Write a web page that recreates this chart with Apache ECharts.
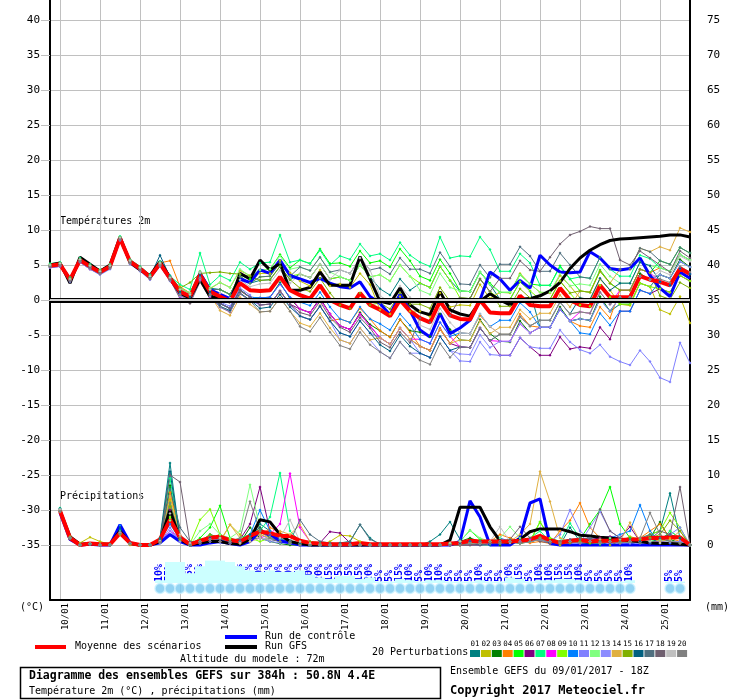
<!DOCTYPE html>
<html>
<head>
<meta charset="utf-8">
<script src="https://cdn.jsdelivr.net/npm/echarts@6/dist/echarts.min.js"></script>
<style>
html, body { margin: 0; padding: 0; background: #fff; }
#chart { width: 740px; height: 700px; }
</style>
</head>
<body>
<div id="chart"></div>
<script>
// 6-hourly steps from 09/01 18Z to +384h
var hours = [];
for (var i = 0; i <= 64; i++) hours.push(i * 6);

var dayHours = [6, 30, 54, 78, 102, 126, 150, 174, 198, 222, 246, 270, 294, 318, 342, 366];
var dayLabels = ['10/01', '11/01', '12/01', '13/01', '14/01', '15/01', '16/01', '17/01',
    '18/01', '19/01', '20/01', '21/01', '22/01', '23/01', '24/01', '25/01'];

var tempTicks = [-35, -30, -25, -20, -15, -10, -5, 0, 5, 10, 15, 20, 25, 30, 35, 40];
var rainTicks = [0, 5, 10, 15, 20, 25, 30, 35, 40, 45, 50, 55, 60, 65, 70, 75];

var memberColors = ['#008080', '#c0c000', '#008000', '#ff8000', '#00ff00', '#800080', '#00ff80', '#ff00ff', '#80ff00', '#0080ff',
    '#8080ff', '#80ff80', '#8c8cff', '#e0b040', '#80b000', '#006080', '#507080', '#706070', '#c0c0c0', '#808080'];

// Temperature 2m (°C)
var tMean = [4.9, 5.1, 2.9, 5.7, 4.8, 4.0, 4.8, 8.8, 5.5, 4.5, 3.3, 5.2, 3.1, 1.2, 0.5, 3.6, 1.2, 0.5, -0.2, 2.4, 1.4, 1.3, 1.4, 3.3, 1.4, 0.7, 0.2, 2.1, 0.0, -0.7, -1.2, 1.0, -0.7,
    -1.4, -2.3, 0.0, -1.6, -2.6, -3.2, -0.2, -2.2, -2.7, -2.8, 0.0, -1.8, -1.9, -1.9, 0.6, -0.7, -0.9, -0.9, 1.7, 0.0, -0.7, -0.9, 2.1, 0.4, 0.4, 0.4, 3.4, 2.9, 2.6, 2.1, 4.5, 3.7];
var tCtrl = [4.9, 5.1, 2.9, 5.7, 4.8, 4.0, 4.8, 8.8, 5.5, 4.5, 3.3, 5.3, 3.1, 1.0, 0.3, 3.8, 1.5, 0.8, 0.2, 3.0, 2.5, 4.3, 3.8, 5.7, 3.5, 3.0, 2.5, 3.1, 2.4, 1.9, 1.7, 2.6, 0.5,
    -0.5, -2.1, 0.8, -1.5, -4.3, -5.3, -1.9, -4.8, -4.0, -2.9, 0.0, 4.0, 3.0, 1.4, 2.8, 1.7, 6.4, 5.0, 4.0, 3.9, 4.0, 6.9, 6.0, 4.5, 4.3, 4.5, 6.0, 3.5, 1.7, 0.5, 4.0, 3.1];
var tGfs = [5.0, 5.3, 2.4, 6.1, 5.1, 4.1, 5.0, 9.0, 5.4, 4.3, 3.5, 5.5, 3.2, 1.0, 0.3, 3.0, 0.5, 0.3, -0.3, 3.8, 3.0, 5.7, 4.3, 5.2, 1.4, 1.4, 1.8, 4.0, 2.1, 2.1, 2.1, 6.2, 3.0,
    -0.2, -0.5, 1.7, -0.7, -1.7, -2.1, 1.2, -1.4, -2.0, -2.3, -0.2, 0.9, 0.0, -0.7, 0.1, 0.2, 0.6, 1.3, 2.5, 4.5, 6.0, 7.1, 7.9, 8.5, 8.7, 8.8, 8.9, 9.0, 9.1, 9.3, 9.3, 9.0];

var t01 = [5.0, 5.3, 3.2, 5.9, 5.0, 4.2, 5.0, 9.0, 5.7, 4.8, 3.6, 5.5, 3.5, 1.7, 1.0, 4.1, 1.7, 1.5, 0.8, 3.4, 2.4, 2.8, 2.9, 4.8, 2.9, 3.7, 3.2, 5.1, 3.0, 3.3, 2.8, 5.0, 3.3,
    1.6, 0.7, 3.0, 1.4, 2.4, 1.8, 4.8, 2.8, 1.3, 1.2, 4.0, 2.2, 0.1, 0.1, 2.6, 1.3, -3.9, -3.9, -1.3, -3.0, -2.7, -2.9, 0.1, -1.6, -0.6, -0.6, 2.4, 1.9, 3.6, 3.1, 5.5, 4.7];
var t02 = [4.7, 4.9, 2.8, 5.5, 4.6, 3.8, 4.6, 8.6, 5.3, 4.3, 3.1, 5.0, 3.0, 1.5, 1.0, 3.8, 1.6, 2.5, 1.8, 4.2, 3.5, 3.8, 3.8, 5.6, 3.9, 2.7, 2.0, 4.3, 2.0, 2.3, 1.8, 3.8, 2.2,
    -1.4, -2.0, 0.5, -1.6, -1.6, -2.4, 1.0, -1.0, -0.7, -0.8, 2.2, 0.2, 1.1, 1.0, 3.8, 2.3, 1.1, 1.0, 3.5, 2.0, 0.3, 0.0, 3.0, 1.4, -0.6, -0.8, 2.4, 1.9, -1.4, -2.0, 0.5, -3.3];
var t03 = [4.8, 5.0, 3.0, 5.6, 4.7, 3.9, 4.7, 8.6, 5.4, 4.4, 3.2, 5.0, 2.9, 0.7, 0.0, 3.0, 0.6, -0.5, -1.2, 1.5, 0.4, 0.3, 0.4, 2.5, 0.2, -1.3, -1.8, 0.3, -2.0, -3.7, -4.2, -1.8, -3.5,
    -4.4, -5.3, -2.8, -4.4, -4.6, -5.2, -2.0, -4.2, -5.7, -5.8, -2.8, -4.8, -5.9, -6.0, -3.0, -4.7, -3.9, -3.9, -1.0, -3.0, -2.7, -2.9, 0.5, -1.6, 0.4, 0.4, 3.8, 2.9, 3.6, 3.1, 5.8, 4.7];
var t04 = [5.1, 5.3, 3.1, 5.9, 5.0, 4.3, 5.0, 9.0, 5.6, 4.7, 3.5, 5.3, 5.6, 1.9, 1.0, 4.0, 1.7, -0.5, -1.2, 1.3, 0.4, -0.7, -0.6, 1.2, -0.6, -2.3, -2.8, -0.8, -3.0, -2.7, -3.2, -1.2, -2.7,
    -4.4, -5.3, -2.8, -4.6, -6.6, -7.2, -4.0, -6.2, -4.7, -4.8, -2.2, -3.8, -4.9, -4.9, -2.0, -3.7, -3.9, -3.9, -1.3, -3.0, -3.7, -3.9, -1.0, -2.6, 1.4, 1.4, 4.4, 3.9, 4.6, 4.1, 6.5, 5.7];
var t05 = [4.9, 5.1, 2.9, 5.8, 4.9, 4.1, 4.9, 8.9, 5.5, 4.6, 3.4, 5.3, 3.2, 1.2, 0.5, 3.8, 1.5, 1.5, 0.8, 3.6, 3.0, 4.3, 4.4, 6.5, 4.6, 5.7, 5.2, 7.3, 5.2, 5.3, 4.8, 7.0, 5.3,
    5.6, 4.7, 7.3, 5.6, 3.4, 2.8, 5.8, 3.8, 1.3, 1.2, 4.0, 2.4, 1.1, 1.1, 3.6, 2.3, 2.1, 2.1, 4.9, 3.0, 1.3, 1.1, 4.3, 2.4, 1.4, 1.4, 4.4, 3.9, 5.6, 5.1, 7.5, 6.7];
var t06 = [4.6, 4.8, 2.7, 5.4, 4.4, 3.7, 4.5, 8.6, 5.2, 4.2, 3.0, 4.9, 2.8, 0.7, 0.0, 3.1, 0.7, -0.5, -1.2, 1.4, 0.4, -0.7, -0.6, 1.3, -0.6, -1.3, -1.8, 0.1, -2.0, -3.7, -4.2, -2.0, -3.7,
    -5.4, -6.3, -4.0, -5.6, -6.6, -7.2, -4.2, -6.2, -6.7, -6.8, -4.0, -5.8, -7.9, -7.9, -5.4, -6.7, -7.9, -7.9, -5.3, -7.0, -6.7, -6.9, -3.9, -5.6, -1.6, -1.6, 1.4, 0.9, 1.6, 1.1, 3.5, 2.7];
var t07 = [5.2, 5.4, 3.2, 6.0, 5.1, 4.3, 5.1, 9.1, 5.8, 4.8, 3.6, 5.5, 3.4, 2.2, 1.5, 6.7, 2.2, 3.5, 2.8, 5.4, 4.4, 5.3, 5.4, 9.3, 5.4, 5.7, 5.2, 7.1, 5.0, 6.3, 5.8, 8.0, 6.3,
    6.6, 5.7, 8.2, 6.4, 5.4, 4.8, 9.0, 6.0, 6.3, 6.2, 9.0, 7.2, 4.1, 4.1, 6.6, 5.3, 2.1, 2.1, 4.7, 3.0, 3.3, 3.1, 6.1, 4.4, 3.4, 3.4, 6.4, 5.9, 4.6, 4.1, 6.5, 5.7];
var t08 = [4.9, 5.0, 2.9, 5.7, 4.8, 4.0, 4.9, 8.7, 5.5, 4.5, 3.4, 5.2, 3.1, 0.4, -0.3, 2.8, 0.4, -1.0, -1.7, 0.9, 0.0, 0.3, 0.4, 2.3, 0.4, -1.3, -1.8, 0.1, -2.0, -3.7, -4.2, -2.0, -3.7,
    -5.4, -6.3, -4.0, -5.6, -5.6, -6.2, -3.2, -5.2, -6.7, -6.8, -4.0, -5.8, -5.9, -5.9, -3.4, -4.7, -3.9, -3.9, -1.3, -3.0, -1.7, -1.9, 1.1, -0.6, 1.4, 1.4, 4.4, 3.9, 2.6, 2.1, 4.5, 3.7];
var t09 = [5.0, 5.2, 3.0, 5.8, 4.9, 4.1, 4.9, 8.9, 5.6, 4.6, 3.4, 5.3, 3.2, 1.5, 0.8, 3.9, 1.5, 1.5, 0.8, 3.4, 2.4, 3.3, 3.4, 5.3, 3.4, 3.7, 3.2, 5.1, 3.0, 3.3, 2.8, 5.0, 3.3,
    3.6, 2.7, 5.0, 3.4, 2.4, 1.8, 4.8, 2.8, 0.3, 0.2, 3.0, 1.2, 0.1, 0.1, 2.6, 1.3, 0.1, 0.1, 2.7, 1.0, -0.7, -0.9, 2.1, 0.4, -0.6, -0.6, 2.4, 1.9, 1.6, 1.1, 3.5, 2.7];
var t10 = [4.8, 5.0, 2.8, 5.6, 4.7, 3.9, 4.7, 8.7, 5.4, 4.4, 3.2, 5.1, 3.0, 0.9, 0.2, 3.3, 0.9, -0.5, -1.2, 1.4, 0.4, 0.3, 0.4, 2.3, 0.4, -0.3, -0.8, 1.1, -1.0, -2.7, -3.2, -1.0, -2.7,
    -3.4, -4.3, -2.0, -3.6, -5.6, -6.2, -3.2, -5.2, -4.7, -4.8, -2.0, -3.8, -2.9, -2.9, -0.4, -1.7, -3.9, -3.9, -1.3, -3.0, -4.7, -4.9, -1.9, -3.6, -1.6, -1.6, 1.4, 0.9, 2.6, 2.1, 4.5, 3.7];
var t11 = [4.6, 4.8, 2.6, 5.4, 4.4, 3.6, 4.4, 8.5, 5.1, 4.1, 2.9, 4.8, 2.7, 0.7, 0.0, 3.1, 0.7, -0.3, -0.9, 1.7, 0.7, -0.7, -0.6, 1.3, -0.6, -2.3, -2.8, -0.9, -3.0, -4.7, -5.2, -3.0, -4.7,
    -5.4, -6.3, -4.0, -5.6, -7.6, -8.2, -5.2, -7.2, -8.7, -8.8, -6.0, -7.8, -7.9, -7.9, -5.4, -6.7, -6.9, -6.9, -4.3, -6.0, -7.1, -7.6, -6.4, -8.1, -8.8, -9.3, -7.2, -8.8, -11.1, -11.7, -6.1, -9.0];
var t12 = [5.0, 5.2, 3.0, 5.8, 4.9, 4.1, 4.9, 8.9, 5.6, 4.6, 3.4, 5.3, 3.2, 1.7, 1.0, 4.1, 1.7, 2.5, 1.8, 4.4, 3.4, 4.3, 4.4, 6.3, 4.4, 4.7, 4.2, 6.1, 4.0, 3.3, 2.8, 5.0, 3.3,
    3.6, 2.7, 5.0, 3.4, 1.4, 0.8, 3.8, 1.8, 1.3, 1.2, 4.0, 2.2, 1.1, 1.1, 3.6, 2.3, 1.1, 1.1, 3.7, 2.0, 2.3, 2.1, 5.1, 3.4, 2.4, 2.4, 5.4, 4.9, 4.6, 4.1, 6.5, 5.7];
var t13 = [4.7, 4.9, 2.8, 5.5, 4.6, 3.8, 4.6, 8.6, 5.3, 4.3, 3.1, 5.0, 2.9, 0.5, -0.2, 2.9, 0.5, -1.0, -1.7, 0.9, -0.1, -0.7, -0.6, 1.3, -0.6, -2.3, -2.8, -0.9, -3.0, -5.7, -6.2, -4.0, -5.7,
    -7.4, -8.3, -6.0, -7.6, -7.6, -8.2, -5.2, -7.2, -7.7, -7.8, -5.0, -6.8, -5.9, -5.9, -3.4, -4.7, -3.9, -3.9, -1.3, -3.0, -2.7, -2.9, 0.1, -1.6, 0.4, 0.4, 3.4, 2.9, 3.6, 3.1, 5.5, 4.7];
var t14 = [4.8, 5.0, 2.9, 5.6, 4.7, 3.9, 4.7, 8.7, 5.4, 4.4, 3.2, 5.1, 3.0, 0.7, 0.0, 3.1, 0.7, -1.5, -2.2, 0.4, -0.6, -1.7, -1.6, 0.3, -1.6, -3.3, -3.8, -1.9, -4.0, -5.7, -6.2, -4.0, -5.7,
    -5.4, -6.3, -4.0, -5.6, -6.6, -7.2, -4.2, -6.2, -5.7, -5.8, -3.0, -4.8, -3.9, -3.9, -1.4, -2.7, -1.9, -1.9, 0.7, -1.0, 1.3, 1.1, 4.1, 2.4, 4.4, 4.4, 7.4, 6.9, 7.6, 7.1, 10.3, 9.7];
var t15 = [5.0, 5.2, 3.1, 5.8, 4.9, 4.1, 4.9, 8.9, 5.6, 4.6, 3.4, 5.3, 3.2, 1.7, 2.5, 3.8, 3.9, 4.0, 3.8, 3.7, 3.4, 2.8, 2.9, 4.8, 2.9, 1.7, 1.2, 3.1, 1.0, -0.7, -1.2, 1.0, -0.7,
    -0.4, -1.3, 1.0, -0.6, -0.6, -1.2, 1.8, -0.2, 0.3, 0.2, 3.0, 1.2, -0.9, -0.9, 1.6, 0.3, 0.1, 0.1, 2.7, 1.0, 1.3, 1.1, 4.1, 2.4, 1.4, 1.4, 4.4, 3.9, 0.6, 0.1, 2.5, 1.7];
var t16 = [4.9, 5.1, 3.0, 5.7, 4.8, 4.0, 4.8, 8.8, 5.5, 4.5, 3.3, 6.4, 3.3, 1.2, 0.5, 3.6, 1.2, -0.9, -1.5, 1.0, 0.0, -1.2, -1.0, 0.8, -1.0, -2.3, -2.8, -0.9, -3.0, -4.7, -5.2, -3.0, -4.7,
    -6.4, -7.3, -5.0, -6.6, -7.6, -8.2, -5.2, -7.2, -6.7, -6.8, -4.0, -5.8, -4.9, -4.9, -2.4, -3.7, -2.9, -2.9, -0.3, -2.0, 0.3, 0.1, 3.1, 1.4, 2.4, 2.4, 5.4, 4.9, 2.6, 2.1, 4.5, 3.7];
var t17 = [5.0, 5.2, 3.0, 5.8, 4.9, 4.1, 4.9, 8.9, 5.6, 4.6, 3.4, 5.3, 3.2, 1.5, 0.8, 3.9, 1.5, 1.5, 0.8, 3.4, 2.4, 3.3, 3.4, 5.3, 3.4, 4.7, 4.2, 6.1, 4.0, 4.3, 3.8, 6.0, 4.3,
    4.6, 3.7, 6.0, 4.4, 4.4, 3.8, 6.8, 4.8, 2.3, 2.2, 5.0, 3.2, 5.1, 5.1, 7.6, 6.3, 4.1, 4.1, 6.7, 5.0, 3.3, 3.1, 6.1, 4.4, 4.4, 4.4, 7.4, 6.9, 5.6, 5.1, 7.5, 6.7];
var t18 = [4.8, 5.0, 2.8, 5.5, 4.6, 3.8, 4.6, 8.7, 5.3, 4.3, 3.0, 4.9, 2.9, 0.2, -0.5, 2.6, 0.2, -0.5, -1.2, 1.4, 0.4, -0.7, -0.6, 1.3, -0.6, -1.8, -2.2, -0.2, -2.5, -3.9, -4.6, -2.5, -4.0,
    -6.0, -6.8, -4.6, -6.1, -2.6, -3.2, -0.2, -2.2, 0.3, 0.2, 3.0, 1.2, 3.1, 3.1, 5.6, 4.3, 4.1, 6.1, 8.0, 9.3, 9.8, 10.5, 10.2, 10.2, 5.7, 5.0, 7.0, 6.0, 5.0, 4.0, 7.0, 6.0];
var t19 = [5.0, 5.2, 3.0, 5.8, 4.9, 4.1, 4.9, 8.9, 5.6, 4.6, 3.4, 5.3, 3.2, 1.5, 0.8, 3.9, 1.5, 1.0, 0.3, 2.9, 1.9, 2.3, 2.4, 4.3, 2.4, 3.7, 3.2, 5.1, 3.0, 4.3, 3.8, 6.0, 4.3,
    0.6, -0.3, 2.0, 0.4, -3.6, -4.2, -1.2, -3.2, -4.7, -4.8, -2.0, -3.8, -4.9, -4.9, -2.4, -3.7, -2.9, -2.9, -0.3, -2.0, -1.7, -1.9, 1.1, -0.6, 0.4, 0.4, 3.4, 2.9, 4.2, 3.6, 6.3, 5.5];
var t20 = [4.7, 4.9, 2.7, 5.5, 4.5, 3.7, 4.5, 8.6, 5.2, 4.2, 3.0, 4.9, 2.8, 0.7, 0.0, 3.1, 0.7, -1.0, -1.7, 0.9, -0.1, -1.7, -1.6, 0.3, -1.6, -3.8, -4.5, -2.5, -4.6, -6.5, -7.0, -4.6, -6.4,
    -7.4, -8.3, -6.0, -7.6, -8.6, -9.2, -6.2, -8.2, -6.7, -6.8, -4.0, -5.8, -4.9, -4.9, -2.4, -3.7, -2.9, -2.9, -0.3, -2.0, -1.7, -1.9, 1.1, -0.6, 0.4, 0.4, 3.4, 2.9, 3.0, 2.5, 4.8, 4.0];

// Precipitations (mm per 6h), right axis
var pMean = [null, 4.9, 1.0, 0.0, 0.2, 0.1, 0.1, 1.7, 0.3, 0.0, 0.0, 0.8, 3.6, 1.1, 0.1, 0.6, 1.0, 1.2, 0.7, 0.5, 1.3, 1.9, 1.7, 1.3, 1.3, 0.6, 0.3, 0.2, 0.1, 0.1, 0.1, 0.3, 0.1,
    0.1, 0.1, 0.1, 0.1, 0.1, 0.1, 0.1, 0.2, 0.3, 0.6, 0.5, 0.5, 0.5, 0.5, 0.6, 0.8, 1.3, 0.7, 0.3, 0.6, 0.7, 0.5, 0.6, 0.6, 0.7, 0.8, 0.8, 1.0, 1.0, 1.1, 1.1, 0.0];
var pCtrl = [null, 4.6, 0.8, 0, 0.1, 0, 0, 2.9, 0.3, 0, 0, 0.3, 1.5, 0.5, 0, 0, 0.3, 0.5, 0.2, 0, 0.5, 2.0, 1.5, 0.6, 0.3, 0, 0, 0, 0, 0, 0, 0, 0,
    0, 0, 0, 0, 0, 0, 0, 0, 0.5, 6.3, 4.0, 0, 0, 0, 1.0, 6.0, 6.6, 0.2, 0, 0, 0, 0, 0, 0, 0, 0, 0, 0, 0, 0, 0, 0];
var pGfs = [null, 4.9, 1.2, 0.1, 0.2, 0.1, 0.1, 2.0, 0.2, 0, 0, 0.5, 5.0, 0.8, 0, 0.3, 0.5, 0.5, 0.2, 0.1, 0.8, 3.6, 3.3, 1.5, 0.5, 0.2, 0, 0, 0, 0, 0, 0, 0,
    0, 0, 0, 0, 0, 0, 0, 0.7, 5.4, 5.4, 5.4, 2.6, 0.6, 0.3, 0.8, 1.9, 2.3, 2.3, 2.3, 1.9, 1.4, 1.3, 1.1, 1.0, 0.8, 0.6, 0.5, 0.3, 0.2, 0.2, 0.1, 0];

var p01 = [null, 5.2, 1.1, 0, 0.1, 0, 0, 2.2, 0.2, 0, 0, 1.0, 11.7, 1.0, 0, 0.3, 1.5, 1.0, 0.5, 0.2, 1.5, 3.0, 2.0, 0.8, 0.3, 0.2, 0, 0, 0.1, 0.3, 0.5, 2.9,
    1.0, 0, 0, 0, 0, 0, 0.5, 1.5, 3.3, 0.8, 0.2, 0, 0, 0.3, 0.5, 0.8, 0.5, 1.0, 0.3, 0, 2.5, 0.5, 0.2, 0, 0.5, 0.3, 1.0, 0.5, 1.5, 2.0, 7.4, 1.0, 0];
var p02 = [null, 4.8, 1.2, 0.3, 1.1, 0.5, 0.1, 1.8, 0.2, 0, 0, 0.5, 6.5, 0.5, 0, 0.5, 1.0, 0.5, 2.9, 1.5, 0.5, 1.5, 2.0, 0.5, 0.3, 0, 0, 0, 0.5, 1.4, 1.3, 0.5,
    0, 0, 0, 0, 0, 0, 0, 0, 0, 0, 0.3, 0.5, 0.2, 0, 0.3, 0.5, 1.0, 0.8, 0.5, 0, 0.3, 0.5, 0.5, 0.2, 0, 0.5, 1.2, 0.8, 0.5, 0.5, 2.0, 1.0, 0];
var p03 = [null, 5.0, 0.9, 0, 0.2, 0, 0, 1.6, 0.1, 0, 0, 0.3, 8.5, 0.8, 0, 0.2, 0.8, 1.5, 0.6, 0.3, 2.5, 1.0, 0.5, 0.2, 0, 0, 0, 0, 0, 0, 0, 0,
    0, 0, 0, 0, 0, 0, 0, 0, 0.2, 0.5, 1.0, 0.5, 0.2, 0, 0.5, 0.3, 0.5, 1.0, 0.5, 0.2, 0.5, 0.3, 0.2, 0.5, 0.8, 0.5, 0.2, 0.5, 1.0, 3.3, 0.8, 0.3, 0];
var p04 = [null, 4.7, 1.0, 0, 0.2, 0, 0, 1.5, 0, 0, 0, 0.5, 7.5, 1.5, 0, 0.5, 1.0, 0.5, 0.3, 0.2, 0.5, 1.0, 2.5, 1.8, 0.5, 0.3, 0.2, 0, 0, 0, 0, 0,
    0, 0, 0, 0, 0, 0, 0, 0, 0, 0, 0, 0.3, 0.5, 1.5, 1.0, 0.5, 0.3, 0.5, 0.2, 2.0, 3.5, 6.0, 2.5, 1.0, 0.5, 0.3, 0.5, 1.0, 2.0, 3.0, 1.0, 0.5, 0];
var p05 = [null, 5.1, 1.0, 0, 0.1, 0, 0, 1.6, 0.2, 0, 0, 0.6, 6.0, 0.8, 0, 1.0, 2.5, 5.6, 1.0, 0.5, 1.0, 2.0, 1.0, 0.5, 0.3, 0.2, 0, 0, 0, 0, 0, 0,
    0, 0, 0, 0, 0, 0, 0, 0, 0.2, 0.5, 2.1, 0.8, 0.3, 0.2, 0.5, 0.5, 0.5, 3.3, 1.0, 0.5, 0.5, 0.8, 3.0, 5.0, 8.3, 3.0, 1.0, 0.3, 0.5, 0.8, 0.5, 0.3, 0];
var p06 = [null, 5.0, 1.0, 0, 0.2, 0, 0, 1.7, 0.2, 0, 0, 0.4, 5.0, 0.8, 0, 0.3, 1.0, 0.8, 0.5, 0.8, 3.0, 8.3, 2.0, 0.5, 0.3, 0.2, 0, 0.3, 1.9, 1.7, 0.3, 0,
    0, 0, 0, 0, 0, 0, 0, 0, 0, 0, 0, 0, 0.2, 0.3, 0.5, 0.3, 0.5, 0.8, 0.3, 0.5, 0.3, 0.5, 0.8, 1.0, 1.2, 1.0, 2.6, 0.5, 0.3, 0.5, 0.3, 0.2, 0];
var p07 = [null, 5.3, 1.1, 0, 0.1, 0, 0, 2.0, 0.3, 0, 0, 0.8, 9.5, 1.0, 0, 0.5, 1.5, 1.0, 0.5, 1.0, 1.5, 2.0, 4.0, 10.3, 2.0, 0.5, 0, 0, 0, 0, 0, 0,
    0, 0, 0, 0, 0, 0, 0, 0, 0.3, 0.5, 0.3, 0.5, 0.2, 0.5, 0.8, 0.5, 1.0, 2.0, 0.5, 0.5, 3.1, 1.0, 0.5, 0.3, 0.5, 1.0, 0.5, 0.5, 1.0, 0.5, 2.0, 1.0, 0];
var p08 = [null, 5.0, 1.0, 0, 0.2, 0, 0, 1.8, 0.2, 0, 0, 0.5, 2.0, 1.0, 0.2, 0.5, 1.0, 0.5, 0.3, 0.5, 0.8, 1.0, 1.5, 3.0, 10.2, 2.5, 0.5, 0.2, 0, 0, 0, 0,
    0, 0, 0, 0, 0, 0, 0, 0, 0, 0.3, 0.5, 0.3, 0.5, 0.2, 0.5, 0.5, 0.8, 1.0, 0.5, 0.3, 0.5, 0.3, 0.5, 0.3, 0.5, 0.3, 0.5, 0.5, 0.3, 0.5, 0.3, 0.5, 0];
var p09 = [null, 4.9, 1.0, 0, 0.1, 0, 0, 1.5, 0.1, 0, 0, 0.4, 4.0, 0.6, 0.2, 3.6, 5.1, 1.5, 0.8, 0.5, 1.0, 0.5, 1.0, 0.8, 0.5, 0.2, 0, 0, 0, 0, 0, 0,
    0, 0, 0, 0, 0, 0, 0, 0, 0.2, 0.5, 0.3, 0.2, 0.5, 0.3, 0.5, 0.3, 0.5, 3.3, 1.0, 0.3, 0.5, 0.5, 0.3, 0.2, 0.5, 0.3, 0.5, 0.8, 1.5, 2.0, 4.6, 2.5, 0];
var p10 = [null, 4.8, 1.0, 0, 0.2, 0, 0, 2.8, 0.3, 0, 0, 0.6, 3.0, 0.8, 0, 0.5, 0.8, 0.5, 0.3, 0.5, 1.5, 5.0, 2.0, 0.8, 0.5, 0.2, 0, 0, 0, 0, 0, 0,
    0, 0, 0, 0, 0, 0, 0, 0, 0, 0.2, 0.5, 0.3, 0.5, 1.0, 0.5, 0.3, 0.5, 0.8, 0.3, 0.5, 0.8, 0.3, 0.5, 0.8, 1.0, 1.5, 2.0, 5.7, 2.0, 0.5, 0.3, 0.5, 0];
var p11 = [null, 5.0, 1.0, 0, 0.1, 0, 0, 1.9, 0.2, 0, 0, 0.3, 2.5, 0.5, 0, 0.3, 0.5, 0.8, 0.3, 0.5, 1.0, 1.5, 0.8, 0.5, 0.2, 0, 0, 0, 0, 0, 0, 0,
    0, 0, 0, 0, 0, 0, 0, 0, 0, 0.2, 0.3, 0.5, 0.3, 0.2, 0.5, 0.3, 0.5, 1.0, 0.5, 1.5, 5.0, 2.0, 0.8, 0.3, 0.5, 0.3, 0.2, 0.5, 0.3, 0.5, 1.5, 2.5, 0];
var p12 = [null, 5.1, 1.0, 0, 0.2, 0, 0, 1.7, 0.2, 0, 0, 0.5, 3.5, 0.8, 0, 2.0, 3.0, 1.5, 1.0, 2.0, 8.6, 2.5, 1.0, 0.5, 0.3, 0, 0, 0, 0, 0, 0, 0,
    0, 0, 0, 0, 0, 0, 0, 0, 0.2, 0.5, 2.1, 1.0, 0.5, 1.0, 2.6, 1.0, 0.5, 1.0, 0.5, 0.3, 0.5, 0.3, 0.5, 0.5, 1.0, 0.8, 0.5, 0.3, 0.5, 0.8, 0.5, 0.3, 0];
var p13 = [null, 4.9, 1.0, 0, 0.1, 0, 0, 1.6, 0.1, 0, 0, 0.3, 2.0, 0.5, 0, 0.2, 0.5, 0.3, 0.2, 0.5, 0.8, 1.0, 0.5, 0.3, 0.2, 0, 0, 0, 0, 0, 0, 0,
    0, 0, 0, 0, 0, 0, 0, 0, 0, 0, 0.2, 0.3, 0.2, 0.5, 0.3, 0.2, 0.5, 0.8, 0.3, 0.5, 0.5, 0.3, 2.5, 4.8, 2.0, 1.0, 0.5, 0.3, 0.5, 0.3, 0.5, 0.5, 0];
var p14 = [null, 5.0, 1.1, 0, 0.2, 0, 0, 1.8, 0.2, 0, 0, 0.5, 7.0, 1.2, 0, 0.3, 0.8, 0.5, 2.9, 1.0, 0.8, 1.5, 1.0, 2.0, 1.5, 2.9, 0.5, 0, 0, 0, 0, 0,
    0, 0, 0, 0, 0, 0, 0, 0, 0, 0.2, 0.3, 0.2, 0.5, 0.3, 0.5, 1.5, 3.0, 10.5, 6.2, 1.0, 0.5, 0.3, 0.5, 0.8, 0.5, 0.5, 3.2, 0.5, 1.0, 0.5, 0.8, 2.0, 0];
var p15 = [null, 4.9, 1.0, 0, 0.2, 0, 0, 1.6, 0.1, 0, 0, 0.4, 5.5, 0.8, 0, 0.5, 1.5, 1.0, 0.5, 0.3, 1.0, 2.5, 1.0, 0.5, 0.3, 0.2, 0.5, 0.3, 0, 0, 0, 0,
    0, 0, 0, 0, 0, 0, 0, 0, 0, 0, 0.3, 0.2, 0.5, 0.3, 0.5, 0.2, 0.5, 1.0, 0.3, 0.5, 0.3, 0.5, 0.3, 0.5, 0.5, 0.3, 0.5, 0.8, 1.0, 1.5, 3.5, 2.0, 0];
var p16 = [null, 5.2, 1.0, 0, 0.1, 0, 0, 2.5, 0.2, 0, 0, 0.8, 10.5, 1.0, 0, 0.3, 1.0, 0.8, 0.5, 0.5, 1.5, 2.5, 1.0, 0.5, 0.3, 0.2, 0, 0, 0, 0, 0, 0,
    0, 0, 0, 0, 0, 0, 0, 0, 0, 0.3, 0.5, 0.5, 0.3, 0.2, 0.5, 0.3, 0.5, 0.8, 0.5, 0.3, 0.5, 0.3, 0.5, 0.3, 0.5, 0.3, 0.5, 0.5, 0.3, 1.0, 1.5, 1.0, 0];
var p17 = [null, 5.0, 1.0, 0, 0.2, 0, 0, 1.8, 0.2, 0, 0, 0.5, 8.0, 2.5, 0.5, 0.3, 0.8, 0.5, 0.3, 0.5, 1.0, 2.0, 1.5, 1.0, 0.5, 3.6, 1.5, 0.5, 0.3, 0.2, 0.5, 2.9,
    0.8, 0.2, 0, 0, 0, 0, 0, 0, 0, 0, 0, 0, 0.2, 0.3, 0.5, 0.3, 0.5, 0.8, 0.5, 0.3, 0.5, 0.8, 1.0, 0.5, 0.3, 0.5, 0.8, 1.0, 1.5, 1.0, 0.5, 0.3, 0];
var p18 = [null, 5.0, 1.0, 0, 0.1, 0, 0, 1.7, 0.2, 0, 0, 0.5, 10.0, 9.0, 0.3, 0.2, 0.5, 0.8, 0.5, 0.3, 0.8, 1.0, 0.8, 0.5, 0.3, 0, 0, 0, 0, 0, 0, 0,
    0, 0, 0, 0, 0, 0, 0, 0, 0, 0, 0.3, 0.5, 0.3, 0.5, 0.8, 2.6, 1.0, 0.5, 0.3, 0.5, 0.8, 1.0, 0.8, 5.1, 2.0, 1.0, 0.5, 0.3, 0.8, 2.0, 1.5, 8.3, 0];
var p19 = [null, 5.1, 1.0, 0, 0.2, 0, 0, 1.7, 0.2, 0, 0, 0.6, 4.5, 1.5, 0.3, 0.5, 0.8, 1.0, 0.5, 0.3, 0.5, 1.0, 0.8, 1.0, 3.6, 0.5, 0.2, 0, 0, 0, 0, 0,
    0, 0, 0, 0, 0, 0, 0, 0, 0.3, 0.5, 0.3, 0.2, 0.5, 2.6, 0.5, 0.3, 0.5, 0.8, 0.5, 0.3, 0.5, 0.3, 0.5, 0.3, 0.5, 0.3, 0.5, 1.0, 0.5, 0.3, 0.5, 0.3, 0];
var p20 = [null, 4.8, 1.0, 0, 0.2, 0, 0, 1.6, 0.2, 0, 0, 0.4, 6.0, 1.0, 0, 0.5, 0.8, 0.5, 0.5, 1.0, 6.2, 2.0, 1.0, 0.5, 0.3, 0, 0, 0, 0, 0, 0, 0,
    0, 0, 0, 0, 0, 0, 0, 0, 0, 0, 0.3, 0.2, 0.5, 0.3, 0.5, 0.3, 0.5, 0.8, 0.5, 0.3, 0.5, 0.3, 0.5, 0.3, 0.5, 0.3, 0.5, 1.0, 4.6, 1.5, 0.5, 0.3, 0];

// probability of precipitation (%) per 6h step
var precipProb = [null, null, null, null, null, null, null, null, null, null, null,
    10, 75, 75, 35, 60, 80, 80, 75, 60, 45, 40, 45, 40, 40, 45, 30, 20, 15, 25, 25,
    15, 20, 5, 5, 15, 10, 5, 10, 10, 5, 5, 5, 10, 5, 5, 20, 15, 5, 10, 10,
    15, 15, 10, 5, 5, 5, 5, 10, null, null, null, 5, 5, null];

var tempMembers = [t01, t02, t03, t04, t05, t06, t07, t08, t09, t10, t11, t12, t13, t14, t15, t16, t17, t18, t19, t20];
var rainMembers = [p01, p02, p03, p04, p05, p06, p07, p08, p09, p10, p11, p12, p13, p14, p15, p16, p17, p18, p19, p20];

var MONO = '"DejaVu Sans Mono", monospace';
var SPAN = 300 / 7;   // half height of the plot in °C (7 px per degree)

function pairs(arr) {
    return hours.map(function(h, i) { return [h, arr[i]]; });
}

function lineSeries(name, arr, color, width, axis, withSymbol) {
    return {
        name: name,
        type: 'line',
        yAxisIndex: axis,
        data: pairs(arr),
        symbol: withSymbol ? 'diamond' : 'none',
        symbolSize: 3,
        showSymbol: withSymbol,
        connectNulls: false,
        silent: true,
        lineStyle: { color: color, width: width },
        itemStyle: { color: color }
    };
}

var series = [];

// perturbations first so the runs and mean sit on top
tempMembers.forEach(function(arr, k) {
    var s = lineSeries('T' + (k + 1), arr, memberColors[k], 1, 0, true);
    if (k == 0) {
        s.markLine = {
            silent: true,
            symbol: 'none',
            label: { show: false },
            data: [
                { yAxis: 0, lineStyle: { color: '#000', width: 5, type: 'solid' } },
                { yAxis: 0, lineStyle: { color: '#d0d0d0', width: 2, type: 'solid' } }
            ]
        };
    }
    series.push(s);
});
rainMembers.forEach(function(arr, k) {
    series.push(lineSeries('P' + (k + 1), arr, memberColors[k], 1, 1, true));
});

series.push(lineSeries('Run de contrôle', tCtrl, '#0000ff', 3, 0, false));
series.push(lineSeries('Run GFS', tGfs, '#000000', 3, 0, false));
series.push(lineSeries('Run de contrôle P', pCtrl, '#0000ff', 3, 1, false));
series.push(lineSeries('Run GFS P', pGfs, '#000000', 3, 1, false));
series.push(lineSeries('Moyenne', tMean, '#ff0000', 4, 0, false));
series.push(lineSeries('Moyenne P', pMean, '#ff0000', 4, 1, false));

// probability band
var probData = [];
hours.forEach(function(h, i) {
    if (precipProb[i] != null) probData.push([h, precipProb[i]]);
});

series.push({
    type: 'bar',
    xAxisIndex: 1,
    yAxisIndex: 2,
    data: probData,
    barWidth: 10,
    silent: true,
    itemStyle: { color: '#ccffff' }
});
series.push({
    type: 'custom',
    xAxisIndex: 1,
    yAxisIndex: 2,
    data: probData,
    silent: true,
    renderItem: function(params, api) {
        var p = api.coord([api.value(0), 0]);
        return {
            type: 'text',
            x: p[0] - 1,
            y: p[1] - 1,
            rotation: Math.PI / 2,
            style: {
                text: api.value(1) + '%',
                fill: '#0000ff',
                font: 'bold 10px ' + MONO,
                align: 'left',
                verticalAlign: 'middle'
            }
        };
    }
});
series.push({
    type: 'scatter',
    xAxisIndex: 2,
    yAxisIndex: 3,
    data: probData.map(function(d) { return [d[0], 0.5]; }),
    symbol: 'circle',
    symbolSize: 10,
    silent: true,
    itemStyle: { color: '#78c8f0', borderColor: '#c8f0ff', borderWidth: 1.5 }
});

// legend and captions
var graphics = [
    { type: 'text', left: 60, top: 216, style: { text: 'Températures 2m', font: '10px ' + MONO, fill: '#000' } },
    { type: 'text', left: 60, top: 491, style: { text: 'Précipitations', font: '10px ' + MONO, fill: '#000' } },
    { type: 'text', left: 20, top: 602, style: { text: '(°C)', font: '10px ' + MONO, fill: '#000' } },
    { type: 'text', left: 705, top: 602, style: { text: '(mm)', font: '10px ' + MONO, fill: '#000' } },
    { type: 'rect', shape: { x: 35, y: 645, width: 31, height: 4 }, style: { fill: '#ff0000' } },
    { type: 'text', left: 75, top: 641, style: { text: 'Moyenne des scénarios', font: '10px ' + MONO, fill: '#000' } },
    { type: 'rect', shape: { x: 225, y: 635, width: 32, height: 4 }, style: { fill: '#0000ff' } },
    { type: 'text', left: 265, top: 631, style: { text: 'Run de contrôle', font: '10px ' + MONO, fill: '#000' } },
    { type: 'rect', shape: { x: 225, y: 645, width: 32, height: 4 }, style: { fill: '#000000' } },
    { type: 'text', left: 265, top: 641, style: { text: 'Run GFS', font: '10px ' + MONO, fill: '#000' } },
    { type: 'text', left: 180, top: 654, style: { text: 'Altitude du modele : 72m', font: '10px ' + MONO, fill: '#000' } },
    { type: 'text', left: 372, top: 647, style: { text: '20 Perturbations', font: '10px ' + MONO, fill: '#000' } },
    { type: 'rect', shape: { x: 20.5, y: 667.5, width: 420, height: 31 }, style: { fill: 'none', stroke: '#000', lineWidth: 1.5 } },
    { type: 'text', left: 29, top: 670, style: { text: 'Diagramme des ensembles GEFS sur 384h : 50.8N 4.4E', font: 'bold 11.5px ' + MONO, fill: '#000' } },
    { type: 'text', left: 29, top: 686, style: { text: 'Température 2m (°C) , précipitations (mm)', font: '10px ' + MONO, fill: '#000' } },
    { type: 'text', left: 450, top: 666, style: { text: 'Ensemble GEFS du 09/01/2017 - 18Z', font: '10px ' + MONO, fill: '#000' } },
    { type: 'text', left: 450, top: 685, style: { text: 'Copyright 2017 Meteociel.fr', font: 'bold 12px ' + MONO, fill: '#000' } }
];

memberColors.forEach(function(c, k) {
    var x = 470 + k * 10.9;
    graphics.push({ type: 'text', x: x + 5, y: 644, style: { text: (k < 9 ? '0' : '') + (k + 1), font: '7.5px ' + MONO, fill: '#000', align: 'center', verticalAlign: 'middle' } });
    graphics.push({ type: 'rect', shape: { x: x, y: 650, width: 10, height: 7 }, style: { fill: c } });
});

var gridLine = { show: true, lineStyle: { color: '#c0c0c0', width: 1 } };

var option = {
    animation: false,
    backgroundColor: '#ffffff',
    grid: [
        { left: 50, right: 50, top: 0, height: 600 },
        { left: 50, right: 50, top: 555, height: 28 },
        { left: 50, right: 50, top: 583, height: 11 }
    ],
    xAxis: [
        {
            type: 'value', gridIndex: 0, min: 0, max: 384,
            axisLine: { show: true, onZero: false, lineStyle: { color: '#000', width: 2 } },
            axisTick: { show: false, customValues: dayHours },
            splitLine: gridLine,
            axisLabel: {
                customValues: dayHours.map(function(h) { return h + 3.6; }),
                rotate: 90, margin: 3, color: '#000', fontFamily: MONO, fontSize: 9,
                formatter: function(v) { return dayLabels[Math.round((v - 9.6) / 24)]; }
            }
        },
        { type: 'value', gridIndex: 1, min: 0, max: 384, show: false },
        { type: 'value', gridIndex: 2, min: 0, max: 384, show: false }
    ],
    yAxis: [
        {
            type: 'value', gridIndex: 0, position: 'left', min: -SPAN, max: SPAN,
            axisLine: { show: true, onZero: false, lineStyle: { color: '#000', width: 2 } },
            axisTick: { show: true, length: 9, customValues: tempTicks, lineStyle: { color: '#c0c0c0' } },
            splitLine: gridLine,
            axisLabel: { customValues: tempTicks, margin: 10, color: '#000', fontFamily: MONO, fontSize: 11 }
        },
        {
            type: 'value', gridIndex: 0, position: 'right', min: 35 - SPAN, max: 35 + SPAN,
            axisLine: { show: true, onZero: false, lineStyle: { color: '#000', width: 2 } },
            axisTick: { show: false, customValues: rainTicks },
            splitLine: { show: false },
            axisLabel: { customValues: rainTicks, margin: 17, color: '#000', fontFamily: MONO, fontSize: 11 }
        },
        { type: 'value', gridIndex: 1, min: 0, max: 100, show: false },
        { type: 'value', gridIndex: 2, min: 0, max: 1, show: false }
    ],
    graphic: graphics,
    series: series
};

var myChart = echarts.init(document.getElementById('chart'));
myChart.setOption(option);
</script>
</body>
</html>
